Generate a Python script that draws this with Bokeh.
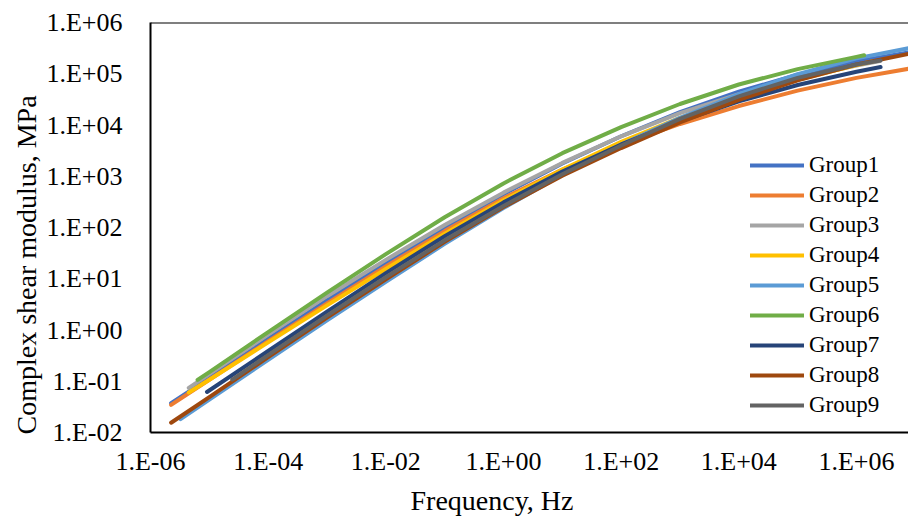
from bokeh.plotting import figure
from bokeh.models import Legend, LegendItem, CustomJSTickFormatter, FixedTicker, Span, Title
from bokeh.embed import file_html
from bokeh.resources import INLINE

# ---------------- data ----------------
GROUPS = ["Group1", "Group2", "Group3", "Group4", "Group5",
          "Group6", "Group7", "Group8", "Group9"]

freq_g1 = [2.24e-6, 1e-5, 1e-4, 1e-3, 1e-2, 1e-1, 1, 10, 100, 1e3, 1e4, 1e5, 1e6, 7.9e6]
mod_g1 = [0.0372, 0.115, 0.676, 3.80, 20.0, 100, 447, 1778, 6026, 17780, 44670, 95500, 173800, 263000]

freq_g2 = [2.24e-6, 1e-5, 1e-4, 1e-3, 1e-2, 1e-1, 1, 10, 100, 1e3, 1e4, 1e5, 1e6, 7.9e6]
mod_g2 = [0.0347, 0.107, 0.603, 3.31, 17.4, 85.1, 372, 1349, 4074, 10470, 23440, 46770, 83180, 125900]

freq_g3 = [4.47e-6, 1e-5, 1e-4, 1e-3, 1e-2, 1e-1, 1, 10, 100, 1e3, 1e4, 1e5, 1e6, 2.51e6]
mod_g3 = [0.0741, 0.138, 0.813, 4.57, 23.4, 112, 479, 1820, 6026, 16980, 39810, 81280, 144500, 177800]

freq_g4 = [4.47e-6, 1e-5, 1e-4, 1e-3, 1e-2, 1e-1, 1, 10, 100, 1e3, 1e4, 1e5, 1e6, 2.0e6]
mod_g4 = [0.0603, 0.107, 0.575, 3.02, 15.5, 75.9, 339, 1349, 4677, 13800, 34670, 75860, 147900, 177800]

freq_g5 = [3.24e-6, 1e-5, 1e-4, 1e-3, 1e-2, 1e-1, 1, 10, 100, 1e3, 1e4, 1e5, 1e6, 7.9e6]
mod_g5 = [0.0182, 0.0437, 0.263, 1.55, 8.71, 47.9, 240, 1072, 4169, 13800, 39810, 97720, 199500, 316200]

freq_g6 = [6.31e-6, 1e-5, 1e-4, 1e-3, 1e-2, 1e-1, 1, 10, 100, 1e3, 1e4, 1e5, 1e6, 1.35e6]
mod_g6 = [0.106, 0.151, 0.912, 5.37, 30.2, 158, 724, 2818, 9120, 25700, 61660, 123000, 213800, 229100]

freq_g7 = [9.12e-6, 1e-4, 1e-3, 1e-2, 1e-1, 1, 10, 100, 1e3, 1e4, 1e5, 1e6, 2.57e6]
mod_g7 = [0.0617, 0.389, 2.29, 12.9, 67.6, 309, 1230, 4169, 11750, 28840, 60260, 109600, 134900]

freq_g8 = [2.24e-6, 1e-5, 1e-4, 1e-3, 1e-2, 1e-1, 1, 10, 100, 1e3, 1e4, 1e5, 1e6, 7.9e6]
mod_g8 = [0.0155, 0.0490, 0.295, 1.74, 9.77, 52.5, 251, 1023, 3548, 11220, 30900, 74130, 151400, 245500]

freq_g9 = [2.45e-5, 1e-4, 1e-3, 1e-2, 1e-1, 1, 10, 100, 1e3, 1e4, 1e5, 1e6, 2.57e6]
mod_g9 = [0.108, 0.324, 1.91, 10.7, 56.2, 263, 1096, 3981, 13180, 36310, 83180, 151400, 182000]

FREQS = [freq_g1, freq_g2, freq_g3, freq_g4, freq_g5, freq_g6, freq_g7, freq_g8, freq_g9]
MODS = [mod_g1, mod_g2, mod_g3, mod_g4, mod_g5, mod_g6, mod_g7, mod_g8, mod_g9]

X_TICKS = [1e-6, 1e-4, 1e-2, 1, 1e2, 1e4, 1e6]
Y_TICKS = [1e-2, 1e-1, 1, 1e1, 1e2, 1e3, 1e4, 1e5, 1e6]

X_TITLE = "Frequency, Hz"
Y_TITLE = "Complex shear modulus, MPa"

# ---------------- style ----------------
COLORS = ["#4472C4", "#ED7D31", "#A5A5A5", "#FFC000", "#5B9BD5",
          "#70AD47", "#264478", "#9E480E", "#636363"]
FONT = "Liberation Serif"
X_MIN, X_MAX = 1e-6, 7.66e6
Y_MIN, Y_MAX = 1e-2, 1e6

p = figure(width=908, height=523, x_axis_type="log", y_axis_type="log",
           x_range=(X_MIN, X_MAX), y_range=(Y_MIN, Y_MAX),
           output_backend="svg", toolbar_location=None,
           min_border_left=150, min_border_right=0,
           min_border_top=22, min_border_bottom=90)
p.outline_line_color = None
p.grid.visible = False
p.background_fill_color = "white"
p.border_fill_color = "white"

fmt = CustomJSTickFormatter(code="""
const e = Math.round(Math.log10(tick));
const a = Math.abs(e);
return "1.E" + (e < 0 ? "-" : "+") + (a < 10 ? "0" : "") + a;
""")

for ax, ticks in ((p.xaxis, X_TICKS), (p.yaxis, Y_TICKS)):
    ax.ticker = FixedTicker(ticks=ticks, minor_ticks=[])
    ax.formatter = fmt
    ax.major_tick_line_color = None
    ax.minor_tick_line_color = None
    ax.axis_line_color = "black"
    ax.axis_line_width = 2
    ax.major_label_text_font = FONT
    ax.major_label_text_font_size = "26px"
    ax.major_label_text_color = "black"

p.xaxis.major_label_standoff = 8
p.yaxis.major_label_standoff = 22

p.add_layout(Span(location=Y_MAX, dimension="width", line_color="black", line_width=2))

# axis titles as side-panel titles, offset as in the reference
p.add_layout(Title(text=X_TITLE, align="left", offset=260, vertical_align="top", standoff=12,
                   text_font=FONT, text_font_size="28px", text_font_style="normal",
                   text_color="black"), "below")
p.add_layout(Title(text=Y_TITLE, align="left", offset=-2, vertical_align="top", standoff=0,
                   text_font=FONT, text_font_size="28px", text_font_style="normal",
                   text_color="black"), "left")

items = []
for name, f, m, c in zip(GROUPS, FREQS, MODS, COLORS):
    r = p.line(f, m, line_color=c, line_width=4, line_cap="round", line_join="round")
    items.append(LegendItem(label=name, renderers=[r]))

legend = Legend(items=items, location=(600, 14))
legend.padding = 0
legend.margin = 0
legend.border_line_color = None
legend.background_fill_alpha = 0
legend.glyph_width = 54
legend.glyph_height = 26
legend.label_height = 26
legend.spacing = 4
legend.label_standoff = 5
legend.label_text_font = FONT
legend.label_text_font_size = "23px"
legend.label_text_color = "black"
p.add_layout(legend)

open("out.html", "w").write(file_html(p, INLINE))
